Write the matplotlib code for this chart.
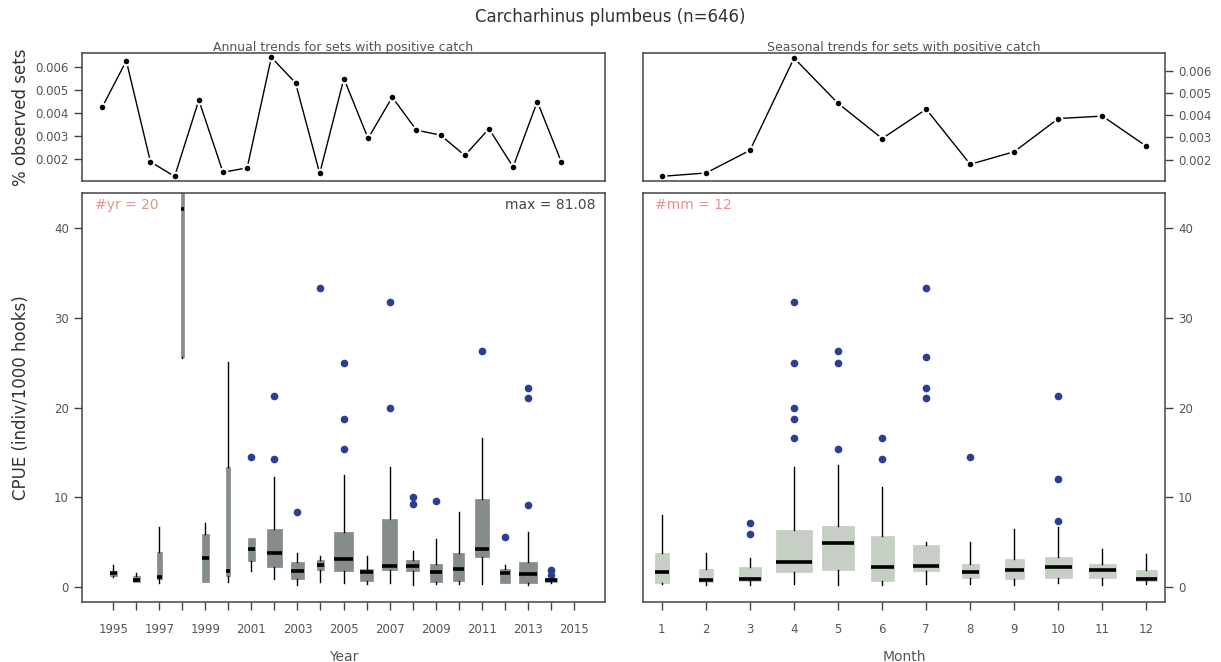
import matplotlib
matplotlib.use("Agg")
import matplotlib.pyplot as plt
import numpy as np

# annual / seasonal proportion of observed sets with positive catch
years = list(range(1995, 2015))
pct_year = [0.00424, 0.00626, 0.00187, 0.00124, 0.00455, 0.00142, 0.00161, 0.00641, 0.00530, 0.00137,
            0.00549, 0.00289, 0.00468, 0.00325, 0.00303, 0.00215, 0.00331, 0.00165, 0.00449, 0.00185]
months = list(range(1, 13))
pct_month = [0.00125, 0.00140, 0.00242, 0.00657, 0.00453, 0.00295, 0.00427, 0.00179, 0.00236, 0.00385,
             0.00396, 0.00260]

# CPUE box summaries by year
year_n = [12, 12, 6, 2, 12, 4, 12, 57, 43, 12, 82, 36, 57, 43, 36, 31, 50, 25, 82, 32]
year_lo = [1.08, 0.52, 0.41, 25.5, 0.52, 0.59, 1.78, 0.86, 0.26, 0.59, 0.41, 0.30, 0.48, 0.22, 0.30, 0.30, 0.30, 0.41, 0.19, 0.41]
year_q1 = [1.23, 0.52, 0.89, 25.7, 0.59, 1.23, 2.90, 2.27, 0.93, 1.90, 1.82, 0.71, 1.93, 1.78, 0.52, 0.71, 3.31, 0.48, 0.48, 0.52]
year_med = [1.56, 0.78, 1.08, 42.2, 3.27, 1.78, 4.28, 3.75, 1.78, 2.49, 3.09, 1.67, 2.34, 2.34, 1.67, 1.97, 4.20, 1.60, 1.49, 0.74]
year_q3 = [1.78, 1.23, 3.87, 62.0, 5.91, 13.35, 5.50, 6.43, 2.75, 3.00, 6.13, 2.04, 7.55, 3.01, 2.60, 3.79, 9.85, 2.00, 2.79, 0.97]
year_hi = [2.45, 1.60, 6.65, 81.08, 7.17, 25.06, 5.50, 12.30, 3.75, 3.46, 12.49, 3.42, 13.38, 4.05, 5.35, 8.36, 16.65, 2.45, 6.13, 0.97]
year_out = [[], [], [], [], [], [], [14.54], [21.3, 14.27], [8.33], [33.3], [24.98, 18.74, 15.35], [],
            [31.78, 19.96], [10.0, 9.22], [9.59], [], [26.28], [5.54], [22.19, 21.12, 9.18], [1.93, 1.34]]

# CPUE box summaries by month
month_n = [19, 21, 42, 117, 92, 50, 64, 27, 34, 69, 69, 42]
month_lo = [0.37, 0.26, 0.26, 0.30, 0.19, 0.19, 0.30, 0.30, 0.26, 0.41, 0.26, 0.30]
month_q1 = [0.41, 0.52, 0.67, 1.67, 1.86, 0.63, 1.82, 0.97, 0.86, 1.04, 1.00, 0.67]
month_med = [1.67, 0.82, 0.93, 2.79, 4.87, 2.19, 2.30, 1.64, 1.86, 2.19, 1.86, 0.93]
month_q3 = [3.79, 1.97, 2.27, 6.36, 6.77, 5.65, 4.72, 2.57, 3.09, 3.31, 2.57, 1.86]
month_hi = [8.03, 3.75, 3.20, 13.38, 13.57, 11.12, 4.98, 5.02, 6.50, 6.65, 4.20, 3.68]
month_out = [[], [], [7.14, 5.87], [31.82, 24.98, 19.96, 18.74, 16.65], [26.28, 24.98, 15.39],
             [16.65, 14.27], [33.3, 25.6, 22.19, 21.12], [14.54], [], [21.26, 12.0, 7.4], [], []]

TXT = "#555555"
EDGE = "#444444"


def make_stats(lo, q1, med, q3, hi, out):
    return [dict(whislo=a, q1=b, med=c, q3=d, whishi=e, fliers=f)
            for a, b, c, d, e, f in zip(lo, q1, med, q3, hi, out)]


def style(ax, side):
    for s in ax.spines.values():
        s.set_color(EDGE)
        s.set_linewidth(1.1)
    ax.tick_params(direction="out", length=6, width=1, color=EDGE, labelcolor=TXT, labelsize=8.5)
    if side == "right":
        ax.yaxis.tick_right()


def boxes(ax, stats, pos, n, color):
    n = np.array(n, dtype=float)
    widths = 0.8 * np.sqrt(n / n.max())
    ax.bxp(stats, positions=pos, widths=widths, patch_artist=True, showcaps=False,
           boxprops=dict(facecolor=color, edgecolor=color, linewidth=0.5),
           medianprops=dict(color="black", linewidth=2.6, solid_capstyle="butt"),
           whiskerprops=dict(color="black", linewidth=1),
           flierprops=dict(marker="o", markerfacecolor="#2b3f91", markeredgecolor="#2b3f91", markersize=4.5))


fig = plt.figure(figsize=(12.21, 6.62), dpi=100)
ax1 = fig.add_axes([0.0672, 0.7266, 0.4283, 0.1934])
ax2 = fig.add_axes([0.5266, 0.7266, 0.4275, 0.1934])
ax3 = fig.add_axes([0.0672, 0.0906, 0.4283, 0.6178])
ax4 = fig.add_axes([0.5266, 0.0906, 0.4275, 0.6178])

line_kw = dict(color="black", linewidth=1, marker="o", markersize=5.5, markerfacecolor="black",
               markeredgecolor="white", markeredgewidth=1.5)

ax1.plot(years, pct_year, **line_kw)
ax1.set_xlim(1994.17, 2015.8)
ax1.set_ylim(0.00104, 0.0066)
ax1.set_xticks([])
ax1.set_yticks([0.002, 0.003, 0.004, 0.005, 0.006])
ax1.set_yticklabels(["0.002", "0.003", "0.004", "0.005", "0.006"])
style(ax1, "left")
ax1.text(0.5, 0.995, "Annual trends for sets with positive catch", transform=ax1.transAxes,
         ha="center", va="bottom", fontsize=9, color=TXT)

ax2.plot(months, pct_month, **line_kw)
ax2.set_xlim(0.57, 12.42)
ax2.set_ylim(0.00104, 0.0068)
ax2.set_xticks([])
ax2.set_yticks([0.002, 0.003, 0.004, 0.005, 0.006])
ax2.set_yticklabels(["0.002", "0.003", "0.004", "0.005", "0.006"])
style(ax2, "right")
ax2.text(0.5, 0.995, "Seasonal trends for sets with positive catch", transform=ax2.transAxes,
         ha="center", va="bottom", fontsize=9, color=TXT)

boxes(ax3, make_stats(year_lo, year_q1, year_med, year_q3, year_hi, year_out), years, year_n, "#858d89")
ax3.set_xlim(1993.65, 2016.35)
ax3.set_ylim(-1.67, 43.94)
all_years = list(range(1995, 2016))
ax3.set_xticks(all_years)
ax3.set_xticklabels([str(y) if y % 2 == 1 else "" for y in all_years])
ax3.set_yticks([0, 10, 20, 30, 40])
style(ax3, "left")
ax3.tick_params(axis="x", pad=9)
ax3.set_xlabel("Year", fontsize=10, color=TXT, labelpad=10)
ymax = max(max(year_hi), max(max(o) for o in year_out if o))
ax3.text(0.981, 0.971, "max = %.2f" % ymax, transform=ax3.transAxes, ha="right", va="center",
         fontsize=10, color="#444444")
ax3.text(0.025, 0.971, "#yr = %d" % len(years), transform=ax3.transAxes, ha="left", va="center",
         fontsize=10, color="#e8908f")

boxes(ax4, make_stats(month_lo, month_q1, month_med, month_q3, month_hi, month_out), months, month_n, "#c5cfc4")
ax4.set_xlim(0.57, 12.42)
ax4.set_ylim(-1.67, 43.94)
ax4.set_xticks(months)
ax4.set_xticklabels([str(m) for m in months])
ax4.set_yticks([0, 10, 20, 30, 40])
style(ax4, "right")
ax4.tick_params(axis="x", pad=9)
ax4.set_xlabel("Month", fontsize=10, color=TXT, labelpad=10)
ax4.text(0.023, 0.971, "#mm = %d" % len(months), transform=ax4.transAxes, ha="left", va="center",
         fontsize=10, color="#e8908f")

fig.text(0.5, 0.974, "Carcharhinus plumbeus (n=646)", ha="center", va="center", fontsize=12, color="#333333")
fig.text(0.017, 0.823, "% observed sets", rotation=90, ha="center", va="center", fontsize=12, color="#333333")
fig.text(0.017, 0.40, "CPUE (indiv/1000 hooks)", rotation=90, ha="center", va="center", fontsize=12, color="#333333")

fig.savefig("out.png", dpi=100)
